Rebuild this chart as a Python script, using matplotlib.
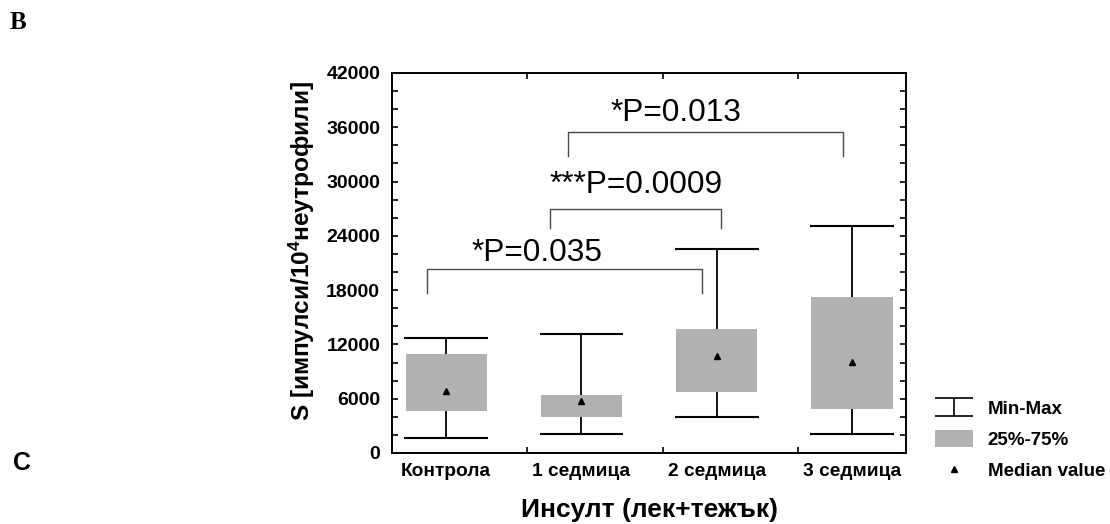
import matplotlib

matplotlib.use("Agg")
import matplotlib.pyplot as plt
import numpy as np
from matplotlib.lines import Line2D
from matplotlib.patches import Patch
from matplotlib.path import Path

plt.rcParams["font.family"] = ["Liberation Sans", "DejaVu Sans"]
plt.rcParams["mathtext.default"] = "regular"

# group statistics
groups = ["Контрола", "1 седмица", "2 седмица", "3 седмица"]
mins = [1700, 2100, 4000, 2100]
q25 = [4600, 4000, 6700, 4850]
medians = [6850, 5700, 10750, 10050]
q75 = [10900, 6400, 13700, 17200]
maxs = [12750, 13150, 22550, 25100]

# significance brackets: (left x, right x, bar level, leg bottom, label, label x, label y)
brackets = [
    (0.86, 2.89, 20300, 17700, "*P=0.035", 1.67, 22100),
    (1.77, 3.03, 27000, 24900, "***P=0.0009", 2.40, 29600),
    (1.90, 3.93, 35500, 32800, "*P=0.013", 2.70, 37600),
]

box_color = "#b1b1b1"
x = np.arange(1, len(groups) + 1)

fig = plt.figure(figsize=(11.1, 5.24), dpi=100)
ax = fig.add_axes([0.3532, 0.1355, 0.4631, 0.7252])

# whiskers with caps
ax.vlines(x, mins, maxs, color="black", lw=1.3, zorder=1)
ax.hlines(mins, x - 0.31, x + 0.31, color="black", lw=1.5, zorder=1)
ax.hlines(maxs, x - 0.31, x + 0.31, color="black", lw=1.5, zorder=1)

# interquartile boxes
ax.bar(x, np.array(q75) - np.array(q25), bottom=q25, width=0.6,
       color=box_color, edgecolor="none", zorder=2)

# medians
ax.plot(x, medians, linestyle="none", marker="^", color="black",
        markersize=5, zorder=3)

# p-value brackets
for x0, x1, top, leg, label, tx, ty in brackets:
    ax.plot([x0, x0, x1, x1], [leg, top, top, leg], color="#4a4a4a",
            lw=1.0, zorder=1)
    ax.text(tx, ty, label, ha="center", va="center", fontsize=22.8)

ax.set_xlim(0.6, 4.4)
ax.set_ylim(0, 42000)
ax.set_yticks(np.arange(0, 42001, 6000))
ax.set_yticks(np.arange(0, 42001, 2000), minor=True)
ax.set_xticks(x)
ax.set_xticks([1.6, 2.6, 3.6], minor=True)
ax.set_xticklabels(groups, fontsize=13.8, fontweight="bold")
for lab in ax.get_yticklabels():
    lab.set_fontsize(14)
    lab.set_fontweight("bold")

ax.tick_params(axis="x", which="major", length=0, pad=7)
ax.tick_params(axis="x", which="minor", direction="in", length=4,
               top=True, bottom=True, width=1.2)
ax.tick_params(axis="y", which="both", direction="in", length=4,
               left=True, right=True, width=1.2, pad=8.5)
for sp in ax.spines.values():
    sp.set_linewidth(1.4)

ax.set_ylabel("S [импулси/10$^4$неутрофили]", fontsize=17.6,
              fontweight="bold")
ax.yaxis.set_label_coords(-0.146, 0.53)
ax.set_xlabel("Инсулт (лек+тежък)", fontsize=19, fontweight="bold",
              labelpad=13)

# legend with a whisker-shaped handle
whisker_path = Path(
    [(-1, 0.45), (1, 0.45), (0, 0.45), (0, -0.45), (-1, -0.45), (1, -0.45)],
    [Path.MOVETO, Path.LINETO, Path.MOVETO, Path.LINETO, Path.MOVETO,
     Path.LINETO],
)
handles = [
    Line2D([], [], linestyle="none", marker=whisker_path, markersize=28,
           markeredgecolor="black", markerfacecolor="none",
           markeredgewidth=1.2),
    Patch(facecolor=box_color, edgecolor="none"),
    Line2D([], [], linestyle="none", marker="^", color="black",
           markersize=5),
]
fig.legend(handles, ["Min-Max", "25%-75%", "Median value"],
           loc="upper left", bbox_to_anchor=(0.834, 0.256),
           frameon=False, prop={"weight": "bold", "size": 13.5},
           handlelength=2.0, handleheight=1.0, handletextpad=0.8,
           labelspacing=0.65, borderpad=0)

fig.text(0.009, 0.958, "B", family="Liberation Serif", fontweight="bold",
         fontsize=18, va="center")
fig.text(0.012, 0.117, "C", fontweight="bold", fontsize=18, va="center")

fig.savefig("out.png", dpi=100)
